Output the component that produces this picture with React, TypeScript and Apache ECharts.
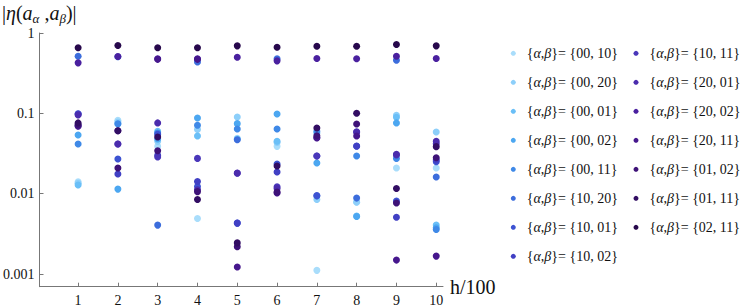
import React, { useEffect, useRef } from "react";
import * as echarts from "echarts";

// h/100 positions
const hValues = [1, 2, 3, 4, 5, 6, 7, 8, 9, 10];

// series names ({alpha, beta} pairs) in legend order
const pairNames = [
  "{00, 10}", "{00, 20}", "{00, 01}", "{00, 02}", "{00, 11}",
  "{10, 20}", "{10, 01}", "{10, 02}", "{10, 11}", "{20, 01}",
  "{20, 02}", "{20, 11}", "{01, 02}", "{01, 11}", "{02, 11}",
];

const pairColors = [
  "#a9ddfb", "#8dcffa", "#6abff7", "#4ca7f1", "#3f89e7",
  "#3c6ddc", "#3d53d2", "#4140c4", "#4a37ba", "#4b2cad",
  "#4a209f", "#46178d", "#3e1278", "#320d63", "#27084c",
];

// |eta(a_alpha, a_beta)| values at h/100 = 1..10
const v_00_10 = [0.0141, 0.0818, 0.0388, 0.00491, 0.049, 0.0388, 0.00111, 0.0078, 0.0209, 0.0209];
const v_00_20 = [0.0135, 0.078, 0.0448, 0.0631, 0.0902, 0.0435, 0.00847, 0.00786, 0.0944, 0.0586];
const v_00_01 = [0.0128, 0.0738, 0.0597, 0.0523, 0.048, 0.045, 0.057, 0.00526, 0.0891, 0.00406];
const v_00_02 = [0.0538, 0.0114, 0.048, 0.0877, 0.0744, 0.0983, 0.0241, 0.0052, 0.076, 0.00376];
const v_00_11 = [0.0416, 0.074, 0.057, 0.0709, 0.0639, 0.0639, 0.0597, 0.0294, 0.0275, 0.00358];
const v_10_20 = [0.514, 0.505, 0.00406, 0.437, 0.047, 0.477, 0.00933, 0.00881, 0.458, 0.0161];
const v_10_01 = [0.099, 0.027, 0.055, 0.0123, 0.0043, 0.0234, 0.0095, 0.0392, 0.00809, 0.025];
const v_10_02 = [0.098, 0.0176, 0.03, 0.0142, 0.0043, 0.0186, 0.0295, 0.039, 0.0051, 0.0262];
const v_10_11 = [0.07, 0.0416, 0.0286, 0.0275, 0.018, 0.0122, 0.0294, 0.0591, 0.0303, 0.0419];
const v_20_01 = [0.0955, 0.0416, 0.076, 0.0112, 0.0181, 0.0116, 0.05, 0.058, 0.031, 0.0448];
const v_20_02 = [0.425, 0.509, 0.477, 0.477, 0.499, 0.45, 0.481, 0.477, 0.514, 0.481];
const v_20_11 = [0.0689, 0.0608, 0.47, 0.47, 0.00122, 0.0102, 0.0493, 0.0523, 0.00149, 0.00167];
const v_01_02 = [0.0723, 0.0209, 0.0343, 0.0106, 0.00218, 0.0105, 0.0527, 0.0738, 0.00764, 0.028];
const v_01_11 = [0.076, 0.0608, 0.0508, 0.00847, 0.00244, 0.0221, 0.0658, 0.1, 0.0116, 0.0385];
const v_02_11 = [0.654, 0.698, 0.654, 0.654, 0.692, 0.665, 0.684, 0.684, 0.718, 0.692];

const seriesValues = [
  v_00_10, v_00_20, v_00_01, v_00_02, v_00_11,
  v_10_20, v_10_01, v_10_02, v_10_11, v_20_01,
  v_20_02, v_20_11, v_01_02, v_01_11, v_02_11,
];

const xTickValues = [1, 2, 3, 4, 5, 6, 7, 8, 9, 10];
const yTickValues = [0.001, 0.01, 0.1, 1];
const yTickLabels = ["0.001", "0.01", "0.1", "1"];

const SERIF = "'Liberation Serif', 'DejaVu Serif', serif";

export default function App() {
  const ref = useRef<HTMLDivElement>(null);

  useEffect(() => {
    if (!ref.current) return;
    const chart = echarts.init(ref.current, undefined, { renderer: "svg" });

    const series = pairNames.map((name, i) => ({
      name,
      type: "scatter",
      symbol: "circle",
      symbolSize: 7,
      itemStyle: { color: pairColors[i], opacity: 1 },
      data: hValues.map((h, j) => [h, Math.log10(seriesValues[i][j])]),
      z: 2 + i,
    }));

    const legendCommon = {
      orient: "vertical",
      icon: "circle",
      itemWidth: 17,
      itemHeight: 5,
      itemGap: 15,
      padding: 0,
      selectedMode: false,
      formatter: (n: string) => `{{g|α},{g|β}}= ${n}`,
      textStyle: {
        fontFamily: SERIF,
        fontSize: 14,
        lineHeight: 14,
        color: "#111",
        rich: {
          g: { fontFamily: SERIF, fontStyle: "italic", fontSize: 14, color: "#111" },
        },
      },
    };

    chart.setOption({
      animation: false,
      backgroundColor: "#fff",
      grid: { left: 39, top: 33, right: 307, bottom: 21.3, containLabel: false },
      xAxis: {
        type: "value",
        min: 0.03,
        max: 10.17,
        name: "h/100",
        nameLocation: "end",
        nameGap: 7,
        nameTextStyle: { fontFamily: SERIF, fontSize: 20, color: "#111", verticalAlign: "middle" },
        axisLine: { show: true, onZero: false, lineStyle: { color: "#777", width: 1 } },
        axisTick: { show: true, inside: true, length: 4, lineStyle: { color: "#777" }, customValues: xTickValues },
        axisLabel: {
          customValues: xTickValues,
          margin: 7,
          fontFamily: SERIF,
          fontSize: 14,
          color: "#111",
        },
        splitLine: { show: false },
      },
      yAxis: {
        type: "value",
        min: -3.158,
        max: 0,
        axisLine: { show: true, onZero: false, lineStyle: { color: "#777", width: 1 } },
        axisTick: {
          show: true,
          inside: true,
          length: 4,
          lineStyle: { color: "#777" },
          customValues: yTickValues.map((v) => Math.log10(v)),
        },
        axisLabel: {
          customValues: yTickValues.map((v) => Math.log10(v)),
          margin: 5,
          fontFamily: SERIF,
          fontSize: 14,
          color: "#111",
          formatter: (v: number) => {
            let best = 0;
            yTickValues.forEach((t, k) => {
              if (Math.abs(Math.log10(t) - v) < Math.abs(Math.log10(yTickValues[best]) - v)) best = k;
            });
            return yTickLabels[best];
          },
        },
        splitLine: { show: false },
      },
      legend: [
        { ...legendCommon, data: pairNames.slice(0, 8), left: 510.8, top: 46.3 },
        { ...legendCommon, data: pairNames.slice(8), left: 633.5, top: 46.3 },
      ],
      graphic: [
        {
          type: "text",
          left: 2,
          top: 1,
          style: {
            text: "|{i|η}({i|a}{s|α} ,{i|a}{s|β})|",
            fontFamily: SERIF,
            fontSize: 20,
            lineHeight: 24,
            fill: "#111",
            rich: {
              i: { fontFamily: SERIF, fontStyle: "italic", fontSize: 20, lineHeight: 24, fill: "#111" },
              s: { fontFamily: SERIF, fontStyle: "italic", fontSize: 13, lineHeight: 13, verticalAlign: "bottom", fill: "#111" },
            },
          },
        },
      ],
      series,
    });

    return () => chart.dispose();
  }, []);

  return (
    <div
      ref={ref}
      style={{ position: "fixed", left: 0, top: 0, width: 750, height: 308 }}
    />
  );
}
